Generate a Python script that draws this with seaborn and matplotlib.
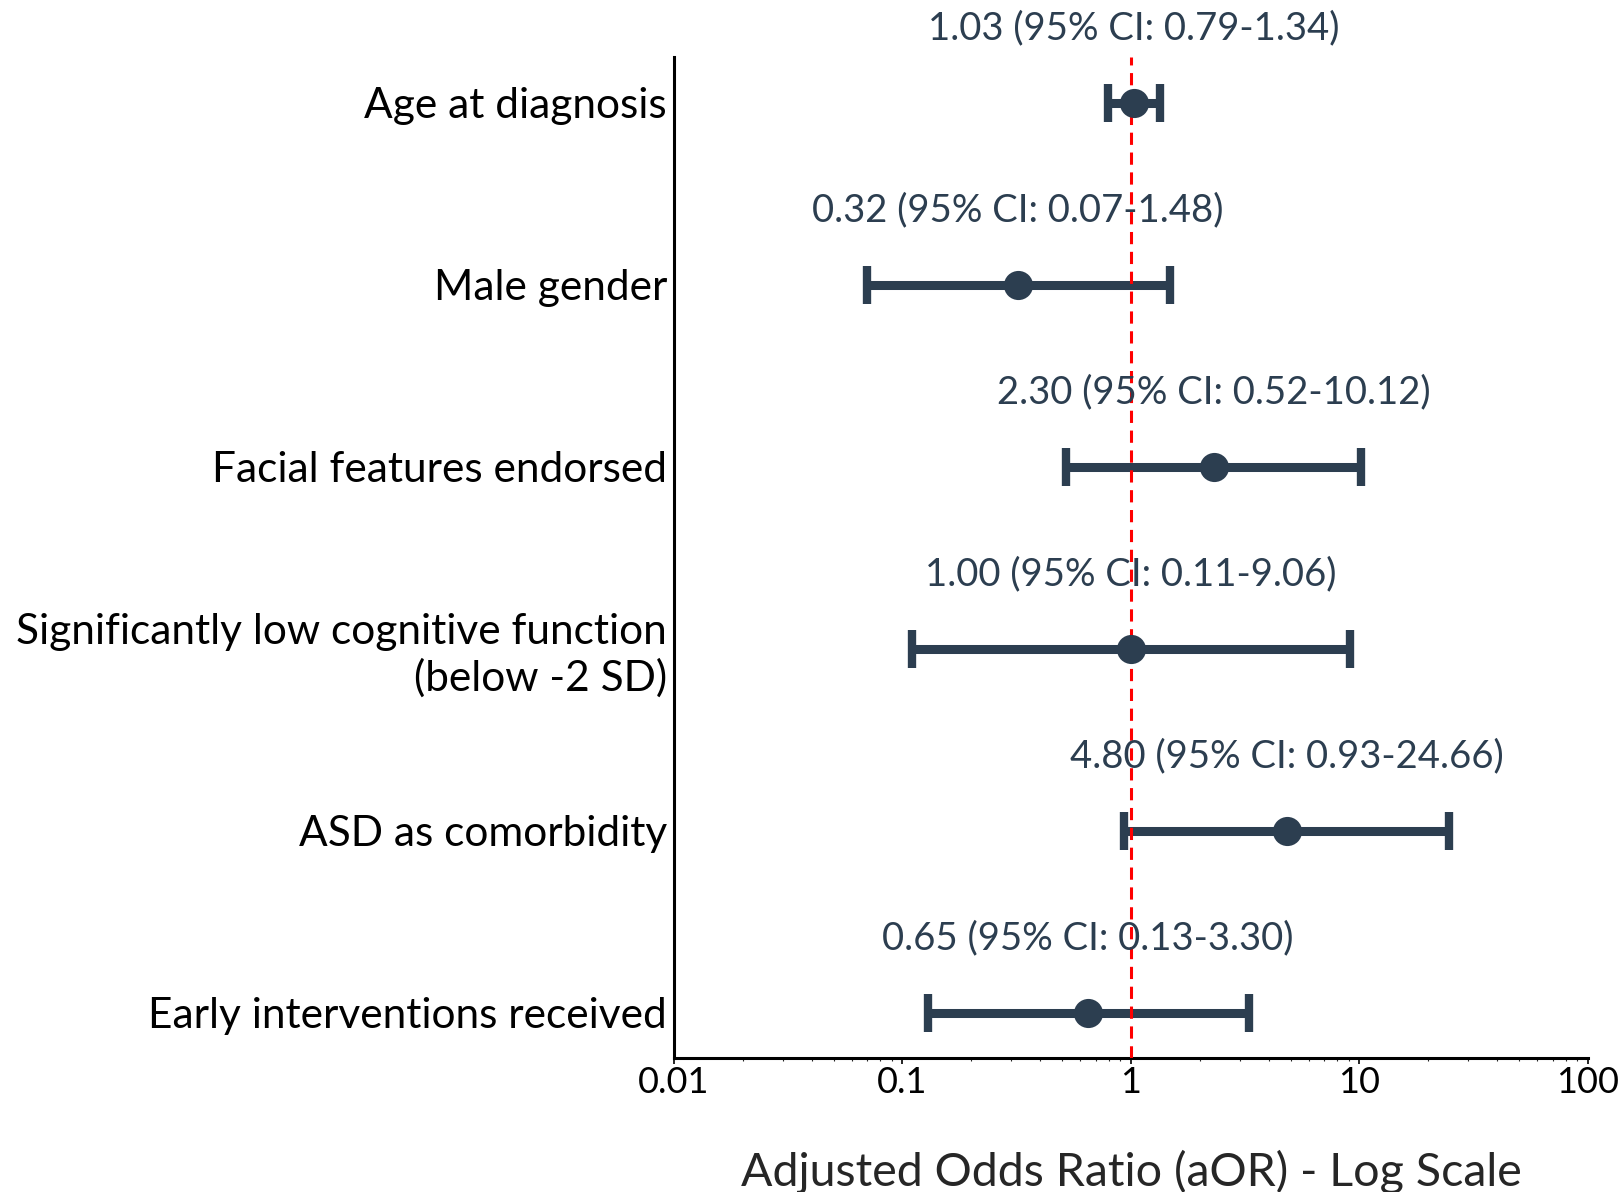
import matplotlib
matplotlib.use("Agg")
import matplotlib.pyplot as plt
import seaborn as sns
import numpy as np
import pandas as pd
from matplotlib.ticker import LogLocator, FixedLocator, FixedFormatter, NullFormatter

variables = [
    "Age at diagnosis",
    "Male gender",
    "Facial features endorsed",
    "Significantly low cognitive function\n(below -2 SD)",
    "ASD as comorbidity",
    "Early interventions received",
]
aor = [1.03, 0.32, 2.30, 1.00, 4.80, 0.65]
ci_low = [0.79, 0.07, 0.52, 0.11, 0.93, 0.13]
ci_high = [1.34, 1.48, 10.12, 9.06, 24.66, 3.30]
xtick_vals = [0.01, 0.1, 1, 10, 100]
xtick_labels = ["0.01", "0.1", "1", "10", "100"]

df = pd.DataFrame({"var": variables, "aor": aor, "lo": ci_low, "hi": ci_high})
df["pos"] = np.arange(len(df))

sns.set_style("white")
plt.rcParams["font.family"] = ["Lato", "DejaVu Sans"]

navy = "#2c3e50"
fig = plt.figure(figsize=(16.22, 11.92), dpi=100)
ax = fig.add_axes([0.4155, 0.1124, 0.979 - 0.4155, 0.952 - 0.1124])

ax.set_xscale("log")
xerr = np.array([df["aor"] - df["lo"], df["hi"] - df["aor"]])
ax.errorbar(df["aor"], df["pos"], xerr=xerr, fmt="none", ecolor=navy,
            elinewidth=6.5, capsize=14, capthick=6, zorder=2)
ax.axvline(1, color="red", linestyle=(0, (4, 2.5)), linewidth=2.2, zorder=3)
sns.scatterplot(data=df, x="aor", y="pos", ax=ax, color=navy, s=440,
                edgecolor=navy, linewidth=0, zorder=4, legend=False)

for _, r in df.iterrows():
    ax.text(r["aor"], r["pos"] - 0.41,
            f"{r['aor']:.2f} (95% CI: {r['lo']:.2f}-{r['hi']:.2f})",
            ha="center", va="center", fontsize=27.5, color=navy, clip_on=False,
            zorder=5)

ax.set_xlim(0.01, 100)
ax.set_ylim(5.25, -0.25)
ax.set_yticks(df["pos"])
ax.set_yticklabels(df["var"], fontsize=30.5, color="black")
ax.xaxis.set_major_locator(FixedLocator(xtick_vals))
ax.xaxis.set_major_formatter(FixedFormatter(xtick_labels))
ax.xaxis.set_minor_locator(LogLocator(base=10, subs=np.arange(2, 10)))
ax.xaxis.set_minor_formatter(NullFormatter())
ax.tick_params(axis="x", which="major", labelsize=26, length=4, width=1.2,
               direction="out", pad=2, bottom=True, colors="black")
ax.tick_params(axis="x", which="minor", length=2.5, width=0.8, bottom=True)
ax.tick_params(axis="y", length=0, pad=5)
ax.set_ylabel("")
ax.set_xlabel("Adjusted Odds Ratio (aOR) - Log Scale", fontsize=33.5, labelpad=36)

for s in ["top", "right"]:
    ax.spines[s].set_visible(False)
for s in ["left", "bottom"]:
    ax.spines[s].set_linewidth(2.2)
    ax.spines[s].set_color("black")

fig.savefig("out.png", dpi=100, facecolor="white")
